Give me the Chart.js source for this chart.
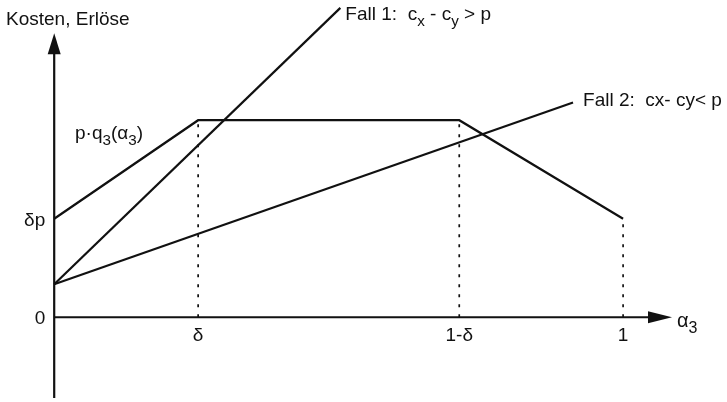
<!DOCTYPE html>
<html>
<head>
<meta charset="utf-8">
<script src="https://cdn.jsdelivr.net/npm/chart.js@4.4.0/dist/chart.umd.min.js"></script>
<style>
  body { margin: 0; background: #fff; }
  canvas { display: block; }
</style>
</head>
<body>
<canvas id="costChart" width="727" height="402"></canvas>
<script>
// values (x in units of alpha_3, y in units of delta*p)
const xTickValues = [0.253, 0.712, 1.0];
const xTickLabels = ['δ', '1-δ', '1'];
const yTickValues = [0, 1.0];
const yTickLabels = ['0', 'δp'];

const revenueX = [0, 0.253, 0.712, 1.0];
const revenueY = [1.0, 2.0, 2.0, 1.0];
const fall1X = [0, 0.503];
const fall1Y = [0.335, 3.14];
const fall2X = [0, 0.912];
const fall2Y = [0.335, 2.18];

// axis extents
const xAxisEnd = 1.086;
const yAxisTop = 2.883;
const yAxisBottom = -0.82;

const FONT = '"Liberation Sans", Arial, Helvetica, sans-serif';
const INK = '#111';

const toPoints = (xs, ys) => xs.map((x, i) => ({ x: x, y: ys[i] }));

// dotted drop lines from the revenue curve down to the x axis
const dropLines = xTickValues.map((x, i) => ({
  data: [{ x: x, y: 0 }, { x: x, y: revenueY[i + 1] }],
  borderColor: INK,
  borderWidth: 1.7,
  borderDash: [3, 7],
  pointRadius: 0
}));

function drawRich(ctx, parts, x, y, size) {
  let cx = x;
  parts.forEach(p => {
    const s = p.sub ? size * 0.8 : size;
    ctx.font = s + 'px ' + FONT;
    ctx.fillText(p.t, cx, y + (p.sub ? size * 0.3 : 0));
    cx += ctx.measureText(p.t).width;
  });
}

const sketchPlugin = {
  id: 'sketch',
  afterDatasetsDraw(chart) {
    const ctx = chart.ctx;
    const xs = chart.scales.x, ys = chart.scales.y;
    const x0 = xs.getPixelForValue(0), y0 = ys.getPixelForValue(0);
    ctx.save();
    ctx.strokeStyle = INK;
    ctx.fillStyle = INK;
    ctx.lineWidth = 2.2;
    ctx.setLineDash([]);

    // y axis with arrow
    const yTop = ys.getPixelForValue(yAxisTop);
    ctx.beginPath();
    ctx.moveTo(x0, ys.getPixelForValue(yAxisBottom));
    ctx.lineTo(x0, yTop + 15);
    ctx.stroke();
    ctx.beginPath();
    ctx.moveTo(x0, yTop);
    ctx.lineTo(x0 - 6.5, yTop + 21);
    ctx.lineTo(x0 + 6.5, yTop + 21);
    ctx.closePath();
    ctx.fill();

    // x axis with arrow
    const xEnd = xs.getPixelForValue(xAxisEnd);
    ctx.beginPath();
    ctx.moveTo(x0, y0);
    ctx.lineTo(xEnd - 18, y0);
    ctx.stroke();
    ctx.beginPath();
    ctx.moveTo(xEnd, y0);
    ctx.lineTo(xEnd - 24, y0 - 6);
    ctx.lineTo(xEnd - 24, y0 + 6);
    ctx.closePath();
    ctx.fill();

    ctx.textBaseline = 'alphabetic';

    // tick labels
    ctx.font = '19px ' + FONT;
    ctx.textAlign = 'center';
    xTickValues.forEach((v, i) => {
      ctx.fillText(xTickLabels[i], xs.getPixelForValue(v), y0 + 24);
    });
    ctx.textAlign = 'right';
    yTickValues.forEach((v, i) => {
      ctx.fillText(yTickLabels[i], x0 - 9, ys.getPixelForValue(v) + 7);
    });

    // other labels
    ctx.textAlign = 'left';
    drawRich(ctx, [{ t: 'Kosten, Erlöse' }], 6, 25, 19);
    drawRich(ctx, [{ t: 'α' }, { t: '3', sub: true }], xEnd + 5, y0 + 10, 20);
    drawRich(ctx, [{ t: 'p·q' }, { t: '3', sub: true }, { t: '(α' }, { t: '3', sub: true }, { t: ')' }], 75, 139, 19);

    const f1 = { x: xs.getPixelForValue(fall1X[1]), y: ys.getPixelForValue(fall1Y[1]) };
    drawRich(ctx, [{ t: 'Fall 1:  c' }, { t: 'x', sub: true }, { t: ' - c' }, { t: 'y', sub: true }, { t: ' > p' }], f1.x + 5, f1.y + 12, 19);
    const f2 = { x: xs.getPixelForValue(fall2X[1]), y: ys.getPixelForValue(fall2Y[1]) };
    drawRich(ctx, [{ t: 'Fall 2:  cx- cy< p' }], f2.x + 10, f2.y + 4, 19);

    ctx.restore();
  }
};

const ctx = document.getElementById('costChart').getContext('2d');
new Chart(ctx, {
  type: 'line',
  data: {
    datasets: [
      { data: toPoints(revenueX, revenueY), borderColor: INK, borderWidth: 2.2, pointRadius: 0 },
      { data: toPoints(fall1X, fall1Y), borderColor: INK, borderWidth: 2.2, pointRadius: 0 },
      { data: toPoints(fall2X, fall2Y), borderColor: INK, borderWidth: 2.2, pointRadius: 0 }
    ].concat(dropLines)
  },
  options: {
    responsive: false,
    animation: false,
    layout: {
      padding: { left: 3, right: 1.5, top: 2, bottom: 1 }
    },
    elements: { line: { tension: 0, fill: false } },
    plugins: {
      legend: { display: false },
      tooltip: { enabled: false }
    },
    scales: {
      x: { type: 'linear', min: -0.09, max: 1.18, display: false },
      y: { type: 'linear', min: -0.85, max: 3.2, display: false }
    }
  },
  plugins: [sketchPlugin]
});
</script>
</body>
</html>
